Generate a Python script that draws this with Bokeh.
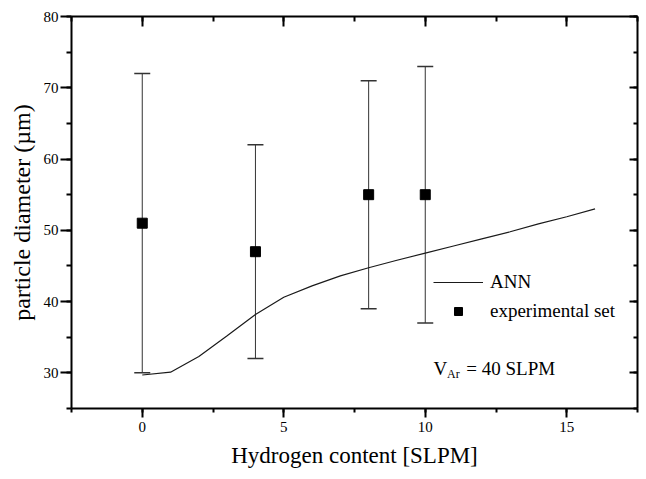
from bokeh.plotting import figure
from bokeh.models import (ColumnDataSource, Whisker, TeeHead, LinearAxis, SingleIntervalTicker,
                          Legend, LegendItem, Label, Range1d, CustomJSTickFormatter)
from bokeh.embed import file_html
from bokeh.resources import INLINE

# experimental data
exp_h2 = [0, 4, 8, 10]
exp_d = [51, 47, 55, 55]
exp_lo = [30, 32, 39, 37]
exp_hi = [72, 62, 71, 73]

# ANN prediction
ann_h2 = [0, 1, 2, 3, 4, 5, 6, 7, 8, 9, 10, 11, 12, 13, 14, 15, 16]
ann_d = [29.7, 30.1, 32.3, 35.2, 38.2, 40.6, 42.2, 43.6, 44.75, 45.8, 46.8, 47.8, 48.8, 49.8, 50.9, 51.9, 53.0]

FONT = "Liberation Serif"

p = figure(width=646, height=479, x_range=Range1d(-2.5, 17.5), y_range=Range1d(25, 80),
           output_backend="svg", toolbar_location=None,
           min_border_left=71, min_border_right=9, min_border_top=16, min_border_bottom=71)
p.grid.visible = False
p.outline_line_color = None
p.background_fill_color = "white"
p.border_fill_color = "white"

xt = SingleIntervalTicker(interval=5, num_minor_ticks=2)
yt = SingleIntervalTicker(interval=10, num_minor_ticks=2)

xa = p.xaxis[0]
xa.ticker = xt
xa.axis_line_width = 2
xa.major_tick_line_width = 2
xa.minor_tick_line_width = 2
xa.major_tick_out = 9
xa.major_tick_in = 0
xa.minor_tick_out = 4
xa.minor_tick_in = 0
xa.major_label_text_font = FONT
xa.major_label_text_font_size = "15px"
xa.major_label_text_color = "black"
xa.major_label_standoff = 4
xa.axis_label = "Hydrogen content [SLPM]"
xa.axis_label_text_font = FONT
xa.axis_label_text_font_size = "23px"
xa.axis_label_text_font_style = "normal"
xa.axis_label_text_color = "black"
xa.axis_label_standoff = 8

ya = p.yaxis[0]
ya.ticker = yt
ya.axis_line_width = 2
ya.major_tick_line_width = 2
ya.minor_tick_line_width = 2
ya.major_tick_out = 11
ya.major_tick_in = 0
ya.minor_tick_out = 5
ya.minor_tick_in = 0
ya.major_label_text_font = FONT
ya.major_label_text_font_size = "15px"
ya.major_label_text_color = "black"
ya.major_label_standoff = 2
ya.axis_label = "particle diameter (µm)"
ya.axis_label_text_font = FONT
ya.axis_label_text_font_size = "24px"
ya.axis_label_text_font_style = "normal"
ya.axis_label_text_color = "black"
ya.axis_label_standoff = 6

blank = CustomJSTickFormatter(code="return ''")
top = LinearAxis(ticker=SingleIntervalTicker(interval=5, num_minor_ticks=2), formatter=blank,
                 axis_line_width=2, major_tick_line_width=2, minor_tick_line_width=2,
                 major_tick_in=10, major_tick_out=0, minor_tick_in=5, minor_tick_out=0,
                 major_label_text_font_size="1px", major_label_standoff=0)
p.add_layout(top, "above")
right = LinearAxis(ticker=SingleIntervalTicker(interval=10, num_minor_ticks=2), formatter=blank,
                   axis_line_width=2, major_tick_line_width=2, minor_tick_line_width=2,
                   major_tick_in=8, major_tick_out=0, minor_tick_in=4, minor_tick_out=0,
                   major_label_text_font_size="1px", major_label_standoff=0)
p.add_layout(right, "right")

src = ColumnDataSource(dict(x=exp_h2, y=exp_d, lo=exp_lo, hi=exp_hi))
wh = Whisker(source=src, base="x", upper="hi", lower="lo", line_color="#333333", line_width=1,
             upper_head=TeeHead(size=16, line_color="#333333", line_width=1.5),
             lower_head=TeeHead(size=16, line_color="#333333", line_width=1.5))
p.add_layout(wh)

ann_r = p.line(ann_h2, ann_d, line_color="#1a1a1a", line_width=1.2)
sq_r = p.scatter("x", "y", source=src, marker="square", size=10, color="black")

legend = Legend(items=[LegendItem(label="ANN", renderers=[ann_r]),
                       LegendItem(label="experimental set", renderers=[sq_r])],
                location=(362, 86), glyph_width=50, glyph_height=20, label_height=20,
                label_standoff=7, spacing=7, padding=0, margin=0,
                border_line_alpha=0, background_fill_alpha=0,
                label_text_font=FONT, label_text_font_size="19px", label_text_color="black")
p.add_layout(legend)

p.add_layout(Label(x=10.29, y=30.63, text="V", text_font=FONT, text_font_size="19px",
                   text_baseline="alphabetic", text_color="black"))
p.add_layout(Label(x=10.77, y=29.9, text="Ar", text_font=FONT, text_font_size="12px",
                   text_baseline="alphabetic", text_color="black"))
p.add_layout(Label(x=11.45, y=30.63, text="= 40 SLPM", text_font=FONT, text_font_size="19px",
                   text_baseline="alphabetic", text_color="black"))
p.add_layout(Label(x=-3.07, y=17.2, text="(a)", text_font=FONT, text_font_size="12px",
                   text_baseline="top", text_color="black"))

open("out.html", "w").write(file_html(p, INLINE))
